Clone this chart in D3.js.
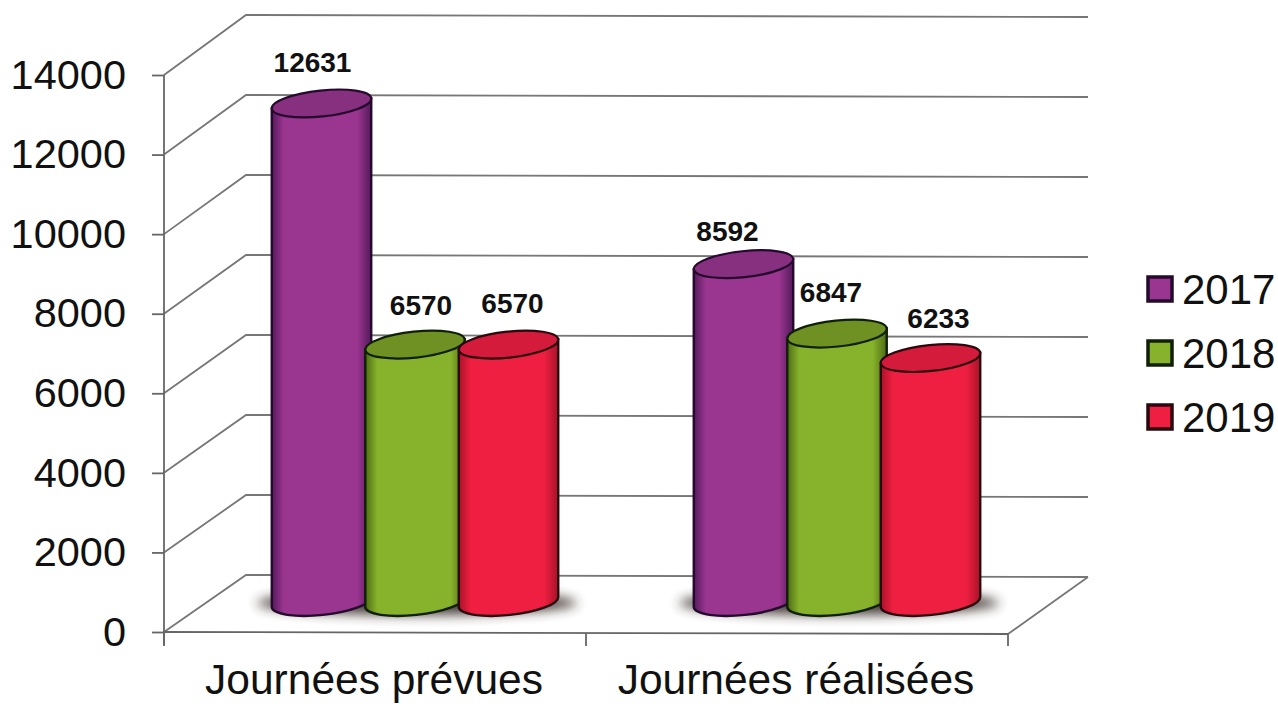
<!DOCTYPE html>
<html>
<head>
<meta charset="utf-8">
<script src="https://cdn.jsdelivr.net/npm/d3@7/dist/d3.min.js"></script>
<style>
	html, body { margin: 0; padding: 0; background: #fff; }
	svg { display: block; font-family: "Liberation Sans", Arial, sans-serif; }
</style>
</head>
<body>
<div id="chart"></div>
<script>
var categories = ["Journées prévues", "Journées réalisées"];
var years = ["2017", "2018", "2019"];
var values2017 = [12631, 8592];
var values2018 = [6570, 6847];
var values2019 = [6570, 6233];
var tickValues = [0, 2000, 4000, 6000, 8000, 10000, 12000, 14000];

var seriesValues = [values2017, values2018, values2019];

var width = 1278,
	height = 704;

var svg = d3.select("#chart")
	.append("svg")
	.attr("width", width)
	.attr("height", height);

var defs = svg.append("defs");

// side colours of each cylinder, dark at the rims
var colors = {
	"2017": {edge: "#54195a", body: "#9a3590", top: "#86307f", line: "#240a2c"},
	"2018": {edge: "#4c6c14", body: "#87b22b", top: "#6f9022", line: "#101f08"},
	"2019": {edge: "#a81229", body: "#ee1f40", top: "#d41b3b", line: "#2a080d"}
};

years.forEach(function (year) {
	var grad = defs.append("linearGradient")
		.attr("id", "side" + year);
	grad.append("stop").attr("offset", "0%").attr("stop-color", colors[year].edge);
	grad.append("stop").attr("offset", "12%").attr("stop-color", colors[year].body);
	grad.append("stop").attr("offset", "86%").attr("stop-color", colors[year].body);
	grad.append("stop").attr("offset", "100%").attr("stop-color", colors[year].edge);
});

defs.append("filter")
	.attr("id", "soft")
	.attr("x", "-20%").attr("y", "-80%")
	.attr("width", "140%").attr("height", "260%")
	.append("feGaussianBlur")
	.attr("stdDeviation", 6);

// front edge of the plot, the back wall sits up and to the right of it
var x = d3.scaleBand().domain(categories).range([164, 1008]);
var yFront = d3.scaleLinear().domain([0, 14000]).range([632, 75]);
var yBack = d3.scaleLinear().domain([0, 14000]).range([575, 15]);
var offset = d3.scalePoint().domain(years).range([-93.5, 93.5]);

var backLeft = 246,
	backRight = 1088,
	backDrop = 2,
	depthShift = 40,
	topShift = 26,
	baseShift = 30;

var rx = 50,
	ry = 13,
	tilt = -6;

var lineColor = "#777";

// walls and floor
var grid = svg.append("g")
	.attr("fill", "none")
	.attr("stroke", lineColor)
	.attr("stroke-width", 1.8);

grid.selectAll("path.wall")
	.data(tickValues)
	.enter()
	.append("path")
	.attr("class", "wall")
	.attr("d", function (d) {
		return "M164," + yFront(d) + "L" + backLeft + "," + yBack(d) + "L" + backRight + "," + (yBack(d) + backDrop);
	});

grid.append("path")
	.attr("d", "M" + backRight + "," + (yBack(0) + backDrop) + "L1008," + (yFront(0) + backDrop));

// axes
var yAxis = d3.axisLeft(yFront)
	.tickValues(tickValues)
	.tickFormat(d3.format("d"))
	.tickSize(12)
	.tickPadding(26);

var yAxisG = svg.append("g")
	.attr("transform", "translate(164,0)")
	.call(yAxis);

yAxisG.select(".domain").remove();
yAxisG.selectAll("line").attr("stroke", "#666").attr("stroke-width", 1.8);
yAxisG.selectAll("text")
	.attr("font-size", 41.5)
	.attr("font-family", "Liberation Sans")
	.attr("fill", "#111");

svg.append("line")
	.attr("x1", 164).attr("x2", 164)
	.attr("y1", yFront(14000)).attr("y2", 645)
	.attr("stroke", "#666")
	.attr("stroke-width", 1.8);

svg.append("line")
	.attr("x1", 164).attr("x2", 1008)
	.attr("y1", yFront(0)).attr("y2", yFront(0) + backDrop)
	.attr("stroke", "#666")
	.attr("stroke-width", 1.8);

var xAxisG = svg.append("g")
	.attr("transform", "translate(0," + (yFront(0) + 1) + ")");

xAxisG.selectAll("line")
	.data([164, x(categories[1]), 1008])
	.enter()
	.append("line")
	.attr("x1", function (d) { return d; })
	.attr("x2", function (d) { return d; })
	.attr("y1", 0)
	.attr("y2", 13)
	.attr("stroke", "#666")
	.attr("stroke-width", 1.8);

xAxisG.selectAll("text")
	.data(categories)
	.enter()
	.append("text")
	.attr("x", function (d) { return x(d) + x.bandwidth() / 2 - 1; })
	.attr("y", 61)
	.attr("text-anchor", "middle")
	.attr("font-size", 42.5)
	.attr("fill", "#111")
	.text(function (d) { return d; });

// flat list of cylinders, drawn left to right so each one overlaps the previous
var bars = [];
categories.forEach(function (category, c) {
	years.forEach(function (year, s) {
		bars.push({category: category, year: year, value: seriesValues[s][c]});
	});
});

function barX(d) {
	return x(d.category) + x.bandwidth() / 2 + depthShift + offset(d.year);
}

function barTop(d) {
	return yFront(d.value) - topShift;
}

var baseY = yFront(0) - baseShift;
var dx = rx * Math.cos(tilt * Math.PI / 180);
var dy = rx * Math.sin(tilt * Math.PI / 180);

// shadows under each group
svg.append("g")
	.selectAll("ellipse")
	.data(categories)
	.enter()
	.append("ellipse")
	.attr("cx", function (d) { return x(d) + x.bandwidth() / 2 + depthShift + 2; })
	.attr("cy", baseY + 1)
	.attr("rx", 160)
	.attr("ry", 12)
	.attr("fill", "#362c26")
	.attr("opacity", 0.9)
	.attr("filter", "url(#soft)");

var cylinders = svg.append("g")
	.selectAll("g")
	.data(bars)
	.enter()
	.append("g");

cylinders.append("path")
	.attr("fill", function (d) { return "url(#side" + d.year + ")"; })
	.attr("stroke", function (d) { return colors[d.year].line; })
	.attr("stroke-width", 2.4)
	.attr("d", function (d) {
		var cx = barX(d),
			t = barTop(d);
		return "M" + (cx - dx) + "," + (t - dy) +
			"L" + (cx - dx) + "," + (baseY - dy) +
			"A" + rx + "," + ry + " " + tilt + " 0 0 " + (cx + dx) + "," + (baseY + dy) +
			"L" + (cx + dx) + "," + (t + dy) + "Z";
	});

cylinders.append("ellipse")
	.attr("rx", rx)
	.attr("ry", ry)
	.attr("transform", function (d) {
		return "translate(" + barX(d) + "," + barTop(d) + ") rotate(" + tilt + ")";
	})
	.attr("fill", function (d) { return colors[d.year].top; })
	.attr("stroke", function (d) { return colors[d.year].line; })
	.attr("stroke-width", 2.2);

// data labels do not sit centred over the bars in the original
var labelNudge = [[-9, -31], [6, -30], [4, -32], [-16, -23], [-6, -32], [8, -30]];

svg.append("g")
	.selectAll("text")
	.data(bars)
	.enter()
	.append("text")
	.attr("x", function (d, i) { return barX(d) + labelNudge[i][0]; })
	.attr("y", function (d, i) { return barTop(d) + labelNudge[i][1]; })
	.attr("text-anchor", "middle")
	.attr("font-size", 28)
	.attr("font-weight", "bold")
	.attr("fill", "#111")
	.text(function (d) { return d.value; });

// legend
var legendY = d3.scalePoint().domain(years).range([289, 417]);

var legend = svg.append("g")
	.selectAll("g")
	.data(years)
	.enter()
	.append("g")
	.attr("transform", function (d) { return "translate(0," + legendY(d) + ")"; });

legend.append("rect")
	.attr("x", 1148)
	.attr("y", -12)
	.attr("width", 24)
	.attr("height", 24)
	.attr("fill", function (d) { return colors[d].body; })
	.attr("stroke", function (d) { return colors[d].line; })
	.attr("stroke-width", 3.5);

legend.append("text")
	.attr("x", 1182)
	.attr("y", 15)
	.attr("font-size", 42)
	.attr("fill", "#111")
	.text(function (d) { return d; });
</script>
</body>
</html>
